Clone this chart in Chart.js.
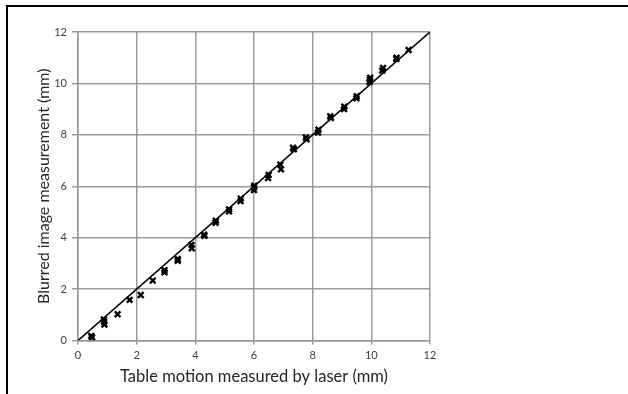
<!DOCTYPE html>
<html>
<head>
<meta charset="utf-8">
<script src="https://cdn.jsdelivr.net/npm/chart.js@4"></script>
<style>
  html, body { margin: 0; padding: 0; background: #fff; }
  body { width: 628px; height: 394px; position: relative; overflow: hidden; }
  #frame {
    position: absolute; left: 6px; top: 5px; right: -10px; bottom: -10px;
    border-top: 2px solid #000; border-left: 2px solid #000;
  }
  #wrap { position: absolute; left: 0; top: 0; width: 628px; height: 394px; }
</style>
</head>
<body>
<div id="frame"></div>
<div id="wrap"><canvas id="chart" width="628" height="394"></canvas></div>
<script>
// laser-measured table motion (mm) and blurred-image measurement (mm), paired per trial
const laserMm = [
  0.48, 0.45, 0.89, 0.90, 0.88, 1.35, 1.76, 2.14, 2.55, 2.95, 2.95,
  3.40, 3.40, 3.88, 3.87, 4.31, 4.30, 4.69, 4.70, 5.15, 5.15, 5.54, 5.55,
  6.00, 6.00, 6.01, 6.48, 6.50, 6.92, 6.90, 7.36, 7.33, 7.79, 7.77,
  8.18, 8.20, 8.62, 8.60, 9.07, 9.08, 9.49, 9.50, 9.94, 9.95, 9.96,
  10.37, 10.40, 10.85, 10.86, 11.27
];
const blurredMm = [
  0.12, 0.18, 0.73, 0.62, 0.82, 1.02, 1.58, 1.77, 2.33, 2.65, 2.74,
  3.10, 3.17, 3.59, 3.72, 4.07, 4.12, 4.58, 4.66, 5.02, 5.10, 5.42, 5.52,
  5.85, 5.96, 6.02, 6.32, 6.44, 6.66, 6.84, 7.44, 7.50, 7.83, 7.90,
  8.09, 8.20, 8.65, 8.72, 9.00, 9.10, 9.42, 9.50, 10.05, 10.14, 10.22,
  10.50, 10.60, 10.95, 11.00, 11.30
];
// y = x reference line
const idealX = [0, 12];
const idealY = [0, 12];

const xTicks = [0, 2, 4, 6, 8, 10, 12];
const yTicks = [0, 2, 4, 6, 8, 10, 12];

const FONT = "Lato, 'Open Sans', sans-serif";
const GRID = '#9a9a9a';
const TICK_COLOR = '#404040';

const trials = laserMm.map((x, i) => ({ x, y: blurredMm[i] }));
const ideal = idealX.map((x, i) => ({ x, y: idealY[i] }));

new Chart(document.getElementById('chart'), {
  type: 'scatter',
  data: {
    datasets: [
      {
        label: 'ideal',
        type: 'line',
        data: ideal,
        borderColor: '#000',
        borderWidth: 1.6,
        pointRadius: 0,
        order: 2
      },
      {
        label: 'trials',
        data: trials,
        pointStyle: 'crossRot',
        pointRadius: 4,
        pointBorderWidth: 2.4,
        borderColor: '#000',
        backgroundColor: '#000',
        order: 1
      }
    ]
  },
  options: {
    responsive: false,
    animation: false,
    layout: { padding: { left: 30, top: 32, right: 198, bottom: 4 } },
    plugins: { legend: { display: false }, tooltip: { enabled: false } },
    scales: {
      x: {
        type: 'linear',
        min: 0, max: 12,
        afterBuildTicks: (s) => { s.ticks = xTicks.map(v => ({ value: v })); },
        afterFit: (s) => { s.height = 49.5; },
        ticks: { color: TICK_COLOR, padding: 4, font: { family: FONT, size: 11 } },
        grid: { color: GRID, lineWidth: 1.5, tickLength: 4 },
        border: { color: GRID, width: 1.5 },
        title: {
          display: true,
          text: 'Table motion measured by laser (mm)',
          color: '#262626',
          font: { family: FONT, size: 16.5 },
          padding: { top: 0, bottom: 3 }
        }
      },
      y: {
        type: 'linear',
        min: 0, max: 12,
        afterBuildTicks: (s) => { s.ticks = yTicks.map(v => ({ value: v })); },
        afterFit: (s) => { s.width = 48; },
        ticks: { color: TICK_COLOR, padding: 5, font: { family: FONT, size: 11 } },
        grid: { color: GRID, lineWidth: 1.5, tickLength: 6 },
        border: { color: GRID, width: 1.5 },
        title: {
          display: true,
          text: 'Blurred image measurement (mm)',
          color: '#262626',
          font: { family: FONT, size: 16 },
          padding: { top: 4, bottom: 0 }
        }
      }
    }
  }
});
</script>
</body>
</html>
